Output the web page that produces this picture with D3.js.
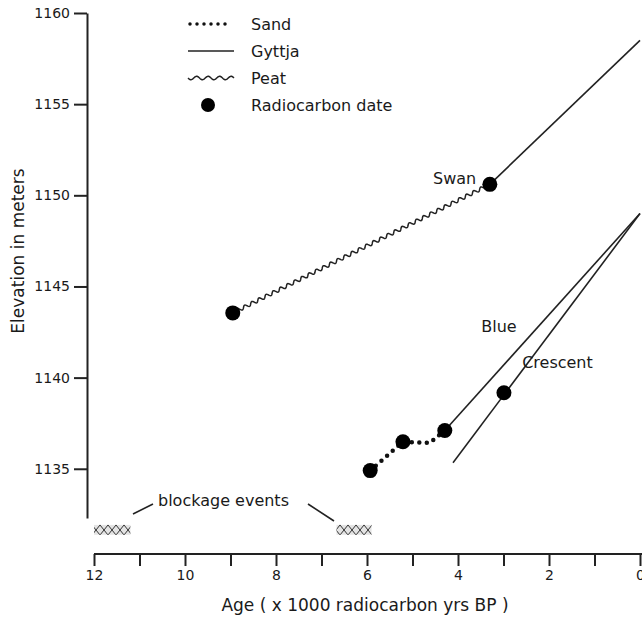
<!DOCTYPE html>
<html lang="en">
  <head>
    <meta charset="UTF-8" />
    <title>Elevation vs Age</title>
    <script src="https://d3js.org/d3.v7.min.js"></script>
    <style>
      body { margin: 0; background: #fff; }
      text { font-family: "DejaVu Sans", sans-serif; fill: #1a1a1a; }
    </style>
  </head>
  <body>
    <svg width="642" height="617"></svg>
    <script>
      // Ages in 1000 radiocarbon yrs BP, elevations in meters
      const xTicks = [12, 11, 10, 9, 8, 7, 6, 5, 4, 3, 2, 1, 0];
      const yTicks = [1135, 1140, 1145, 1150, 1155, 1160];

      const swanPeat = [[8.95, 1143.55], [3.3, 1150.6]];
      const swanGyttja = [[3.3, 1150.6], [0, 1158.5]];
      const blueSand = [[5.93, 1134.9], [5.21, 1136.48], [4.62, 1136.42], [4.29, 1137.1]];
      const blueGyttja = [[4.29, 1137.1], [0, 1149.0]];
      const crescentGyttja = [[4.11, 1135.33], [0, 1149.0]];
      const dates = [[8.95, 1143.55], [3.3, 1150.6], [5.93, 1134.9], [5.21, 1136.48], [4.29, 1137.1], [2.99, 1139.17]];

      // blockage events: [ageStart, ageEnd]
      const blockages = [[12, 11.2], [6.67, 5.9]];
      const blockTop = 1131.92, blockBottom = 1131.38;

      const siteLabels = [
        { name: "Swan", age: 3.6, elev: 1150.6, anchor: "end" },
        { name: "Blue", age: 3.49, elev: 1142.5, anchor: "start" },
        { name: "Crescent", age: 2.59, elev: 1140.55, anchor: "start" },
      ];

      const svg = d3.select("svg");
      const x = d3.scaleLinear().domain([12, 0]).range([94, 640]);
      const y = d3.scaleLinear().domain([1132.3, 1160]).range([518, 13]);

      // pattern for blockage boxes
      const pat = svg.append("defs").append("pattern")
        .attr("id", "hatch").attr("patternUnits", "userSpaceOnUse")
        .attr("width", 8).attr("height", 10);
      pat.append("rect").attr("width", 8).attr("height", 10).attr("fill", "#e4e4e4");
      pat.append("path").attr("d", "M0,0L8,10M8,0L0,10")
        .attr("stroke", "#333").attr("stroke-width", 1);

      // axes
      const yAxis = svg.append("g")
        .attr("transform", "translate(87,0)")
        .call(d3.axisLeft(y).tickValues(yTicks).tickSize(13).tickSizeOuter(0).tickPadding(4)
          .tickFormat(d3.format("d")));
      const xAxis = svg.append("g")
        .attr("transform", "translate(0,554)")
        .call(d3.axisBottom(x).tickValues(xTicks).tickSize(12).tickSizeOuter(0).tickPadding(4)
          .tickFormat((d) => (d % 2 === 0 ? d : "")));
      [yAxis, xAxis].forEach((g) => {
        g.selectAll("path, line").attr("stroke", "#222").attr("stroke-width", 2);
        g.selectAll("text").style("font-size", "14px")
          .style("font-family", "DejaVu Sans, sans-serif").attr("fill", "#333");
      });
      xAxis.select(".domain").attr("d", "M94,0H642");

      svg.append("text").attr("x", 365).attr("y", 611).attr("text-anchor", "middle")
        .style("font-size", "17px").text("Age ( x 1000 radiocarbon yrs BP )");
      svg.append("text").attr("transform", "translate(24,251) rotate(-90)")
        .attr("text-anchor", "middle").style("font-size", "17px").text("Elevation in meters");

      const line = d3.line().x((d) => x(d[0])).y((d) => y(d[1]));

      // wavy path for peat
      function wavy(p0, p1, period, amp) {
        const x0 = x(p0[0]), y0 = y(p0[1]), x1 = x(p1[0]), y1 = y(p1[1]);
        const len = Math.hypot(x1 - x0, y1 - y0);
        const ux = (x1 - x0) / len, uy = (y1 - y0) / len;
        const pts = [];
        for (let s = 0; s <= len; s += 0.5) {
          const o = amp * Math.sin((2 * Math.PI * s) / period);
          pts.push([x0 + ux * s - uy * o, y0 + uy * s + ux * o]);
        }
        return d3.line()(pts);
      }

      svg.append("path").attr("d", wavy(swanPeat[0], swanPeat[1], 8, 1.7))
        .attr("fill", "none").attr("stroke", "#222").attr("stroke-width", 1.5);

      [swanGyttja, blueGyttja, crescentGyttja].forEach((seg) => {
        svg.append("path").attr("d", line(seg))
          .attr("fill", "none").attr("stroke", "#222").attr("stroke-width", 1.6);
      });

      svg.append("path").attr("d", line(blueSand))
        .attr("fill", "none").attr("stroke", "#111").attr("stroke-width", 4.5)
        .attr("stroke-linecap", "round").attr("stroke-dasharray", "0 7.5");

      svg.selectAll("circle.date").data(dates).enter().append("circle")
        .attr("class", "date")
        .attr("cx", (d) => x(d[0])).attr("cy", (d) => y(d[1]))
        .attr("r", 7.5).attr("fill", "#000");

      svg.selectAll("text.site").data(siteLabels).enter().append("text")
        .attr("class", "site")
        .attr("x", (d) => x(d.age)).attr("y", (d) => y(d.elev))
        .attr("text-anchor", (d) => d.anchor).style("font-size", "16px")
        .text((d) => d.name);

      // blockage boxes
      svg.selectAll("rect.block").data(blockages).enter().append("rect")
        .attr("class", "block")
        .attr("x", (d) => x(d[0])).attr("width", (d) => x(d[1]) - x(d[0]))
        .attr("y", y(blockTop)).attr("height", y(blockBottom) - y(blockTop))
        .attr("fill", "url(#hatch)");
      svg.append("text").attr("x", 158).attr("y", 506).style("font-size", "16px")
        .text("blockage events");
      svg.append("path").attr("d", "M133,514L153,504M308,504L334,521")
        .attr("stroke", "#222").attr("stroke-width", 1.6);

      // legend
      const lg = svg.append("g");
      const items = ["Sand", "Gyttja", "Peat", "Radiocarbon date"];
      items.forEach((name, i) => {
        const cy = 24 + i * 27;
        if (name === "Sand") {
          lg.append("line").attr("x1", 190).attr("x2", 232).attr("y1", cy).attr("y2", cy)
            .attr("stroke", "#111").attr("stroke-width", 3.5)
            .attr("stroke-linecap", "round").attr("stroke-dasharray", "0 7");
        } else if (name === "Gyttja") {
          lg.append("line").attr("x1", 188).attr("x2", 234).attr("y1", cy).attr("y2", cy)
            .attr("stroke", "#222").attr("stroke-width", 1.6);
        } else if (name === "Peat") {
          let pts = [];
          for (let s = 0; s <= 46; s += 0.5) pts.push([188 + s, cy + 1.7 * Math.sin((2 * Math.PI * s) / 11.5)]);
          lg.append("path").attr("d", d3.line()(pts)).attr("fill", "none")
            .attr("stroke", "#222").attr("stroke-width", 1.5);
        } else {
          lg.append("circle").attr("cx", 208).attr("cy", cy).attr("r", 7).attr("fill", "#000");
        }
        lg.append("text").attr("x", 251).attr("y", cy + 6).style("font-size", "16px").text(name);
      });
    </script>
  </body>
</html>
